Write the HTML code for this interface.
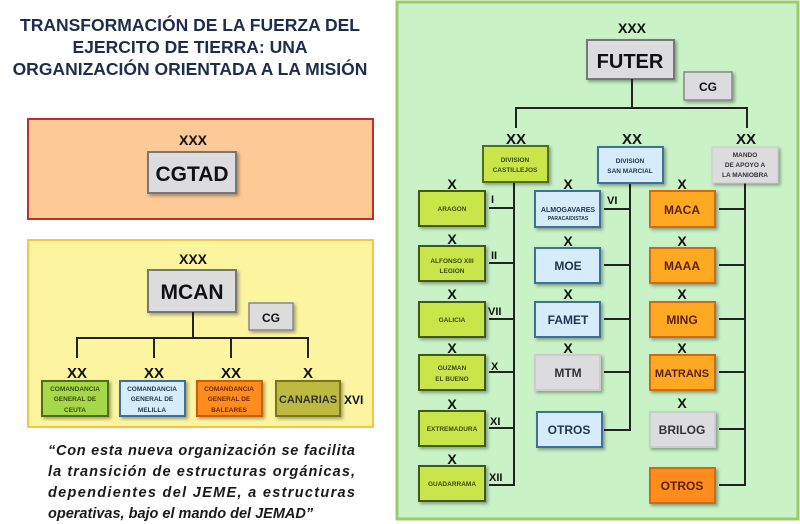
<!DOCTYPE html>
<html><head><meta charset="utf-8"><style>
html,body{margin:0;padding:0;background:#fff;}
svg{display:block;}
text{font-family:"Liberation Sans",sans-serif;font-weight:bold;}
</style></head><body>
<svg width="800" height="524" viewBox="0 0 800 524" xmlns="http://www.w3.org/2000/svg">
<defs>
<filter id="sh" x="-20%" y="-20%" width="150%" height="150%"><feDropShadow dx="2" dy="2" stdDeviation="1.5" flood-color="#000" flood-opacity="0.35"/></filter>
</defs>
<!-- title -->
<g fill="#1f2d4d" font-size="17.5" text-anchor="middle">
<text x="190" y="31">TRANSFORMACIÓN DE LA FUERZA DEL</text>
<text x="190" y="53">EJERCITO DE TIERRA: UNA</text>
<text x="190" y="75">ORGANIZACIÓN ORIENTADA A LA MISIÓN</text>
</g>
<!-- CGTAD panel -->
<rect x="28" y="119" width="345" height="100" fill="#fdc997" stroke="#c0302a" stroke-width="2"/>
<text x="193" y="145" font-size="14" text-anchor="middle" fill="#111">XXX</text>
<rect x="148" y="152" width="88" height="41" fill="#dcdcde" stroke="#777" stroke-width="2" filter="url(#sh)"/>
<text x="192" y="181" font-size="21" text-anchor="middle" fill="#111">CGTAD</text>
<!-- MCAN panel -->
<rect x="28" y="240" width="345" height="187" fill="#fdf4a0" stroke="#f2c744" stroke-width="2"/>
<text x="193" y="264" font-size="14" text-anchor="middle" fill="#111">XXX</text>
<rect x="148" y="270" width="88" height="42" fill="#dcdcde" stroke="#777" stroke-width="2" filter="url(#sh)"/>
<text x="192" y="299" font-size="21" text-anchor="middle" fill="#111">MCAN</text>
<rect x="249" y="303" width="44" height="27" fill="#dcdcde" stroke="#888" stroke-width="1.5" filter="url(#sh)"/>
<text x="271" y="322" font-size="12" text-anchor="middle" fill="#111">CG</text>
<g stroke="#222" stroke-width="2" fill="none">
<path d="M193 312V338M77 358V338H308V358M154 338V358M231 338V358"/>
</g>
<g font-size="15" text-anchor="middle" fill="#111">
<text x="77" y="378">XX</text><text x="154" y="378">XX</text><text x="231" y="378">XX</text><text x="308" y="378">X</text>
</g>
<rect x="42" y="381" width="66" height="35" fill="#a6d94a" stroke="#4f6e1c" stroke-width="2" filter="url(#sh)"/>
<rect x="120" y="381" width="65" height="35" fill="#d7ecfb" stroke="#3b6f9f" stroke-width="2" filter="url(#sh)"/>
<rect x="197" y="381" width="65" height="35" fill="#ff8c1a" stroke="#c65f10" stroke-width="2" filter="url(#sh)"/>
<rect x="276" y="381" width="64" height="35" fill="#bfb940" stroke="#7a7722" stroke-width="2" filter="url(#sh)"/>
<g font-size="6.5" text-anchor="middle">
<text x="75" y="391" fill="#3d4a10">COMANDANCIA</text><text x="75" y="401" fill="#3d4a10">GENERAL DE</text><text x="75" y="412" fill="#3d4a10">CEUTA</text>
<text x="152" y="391" fill="#1f3550">COMANDANCIA</text><text x="152" y="401" fill="#1f3550">GENERAL DE</text><text x="152" y="412" fill="#1f3550">MELILLA</text>
<text x="229" y="391" fill="#6b2a00">COMANDANCIA</text><text x="229" y="401" fill="#6b2a00">GENERAL DE</text><text x="229" y="412" fill="#6b2a00">BALEARES</text>
</g>
<text x="308" y="403" font-size="11" text-anchor="middle" fill="#333">CANARIAS</text>
<text x="344" y="404" font-size="12" fill="#111">XVI</text>
<!-- quote -->
<g font-size="14.5" font-style="italic" fill="#1a1a1a">
<text x="48" y="455" textLength="307" lengthAdjust="spacing">“Con esta nueva organización se facilita</text>
<text x="48" y="476" textLength="307" lengthAdjust="spacing">la transición de estructuras orgánicas,</text>
<text x="48" y="497" textLength="307" lengthAdjust="spacing">dependientes del JEME, a estructuras</text>
<text x="48" y="518">operativas, bajo el mando del JEMAD”</text>
</g>
<!-- right panel -->
<rect x="397" y="2" width="401" height="517" fill="#c9f2c7" stroke="#9ccc6a" stroke-width="3"/>
<text x="632" y="33" font-size="14" text-anchor="middle" fill="#111">XXX</text>
<rect x="587" y="40" width="87" height="39" fill="#dcdcde" stroke="#777" stroke-width="2" filter="url(#sh)"/>
<text x="630" y="68" font-size="20" text-anchor="middle" fill="#111">FUTER</text>
<rect x="684" y="72" width="48" height="28" fill="#dcdcde" stroke="#888" stroke-width="1.5" filter="url(#sh)"/>
<text x="708" y="91" font-size="12" text-anchor="middle" fill="#111">CG</text>
<g stroke="#222" stroke-width="2" fill="none">
<path d="M632 79V108M516 128V108H747V128"/>
<path d="M514 182V485H489M489 208H514M489 263H514M489 319H514M489 372H514M489 428H514"/>
<path d="M630 183V430H604M604 209H630M604 265H630M604 319H630M604 372H630"/>
<path d="M745 183V485H719M719 209H745M719 265H745M719 319H745M719 372H745M719 429H745"/>
</g>
<g font-size="15" text-anchor="middle" fill="#111">
<text x="516" y="144">XX</text><text x="632" y="144">XX</text><text x="746" y="144">XX</text>
</g>
<rect x="483" y="146" width="65" height="36" fill="#c8e64a" stroke="#4f6e1c" stroke-width="2" filter="url(#sh)"/>
<rect x="598" y="147" width="65" height="36" fill="#d7ecfb" stroke="#3b6f9f" stroke-width="2" filter="url(#sh)"/>
<rect x="712" y="147" width="66" height="36" fill="#dcdcde" stroke="#ccc" stroke-width="1" filter="url(#sh)"/>
<g font-size="6.5" text-anchor="middle">
<text x="515" y="162" fill="#3d4a10">DIVISION</text><text x="515" y="172" fill="#3d4a10">CASTILLEJOS</text>
<text x="630" y="163" fill="#1f3550">DIVISION</text><text x="630" y="173" fill="#1f3550">SAN MARCIAL</text>
<text x="745" y="157" fill="#333">MANDO</text><text x="745" y="167" fill="#333">DE APOYO  A</text><text x="745" y="177" fill="#333">LA MANIOBRA</text>
</g>
<!-- left column -->
<g fill="#c8e64a" stroke="#3f5a14" stroke-width="2" filter="url(#sh)">
<rect x="419" y="191" width="66" height="35"/><rect x="419" y="246" width="66" height="35"/>
<rect x="419" y="302" width="66" height="35"/><rect x="419" y="355" width="66" height="35"/>
<rect x="419" y="411" width="66" height="35"/><rect x="419" y="466" width="66" height="35"/>
</g>
<g font-size="6.5" text-anchor="middle" fill="#3d4a10">
<text x="452" y="211">ARAGON</text>
<text x="452" y="263">ALFONSO XIII</text><text x="452" y="273">LEGION</text>
<text x="452" y="322">GALICIA</text>
<text x="452" y="370">GUZMAN</text><text x="452" y="381">EL BUENO</text>
<text x="452" y="431">EXTREMADURA</text>
<text x="452" y="486">GUADARRAMA</text>
</g>
<g font-size="14" text-anchor="middle" fill="#111">
<text x="452" y="189">X</text><text x="452" y="244">X</text><text x="452" y="299">X</text><text x="452" y="353">X</text><text x="452" y="409">X</text><text x="452" y="464">X</text>
<text x="568" y="189">X</text><text x="568" y="246">X</text><text x="568" y="299">X</text><text x="568" y="353">X</text>
<text x="682" y="189">X</text><text x="682" y="246">X</text><text x="682" y="299">X</text><text x="682" y="353">X</text><text x="682" y="408">X</text>
</g>
<g font-size="11" fill="#111">
<text x="491" y="203">I</text><text x="491" y="259">II</text><text x="488" y="315">VII</text><text x="491" y="370">X</text><text x="490" y="425">XI</text><text x="489" y="481">XII</text>
<text x="607" y="204">VI</text>
</g>
<!-- middle column -->
<g stroke-width="2" filter="url(#sh)">
<rect x="535" y="191" width="65" height="36" fill="#d7ecfb" stroke="#3b6f9f"/>
<rect x="535" y="248" width="65" height="35" fill="#d7ecfb" stroke="#3b6f9f"/>
<rect x="535" y="302" width="65" height="35" fill="#d7ecfb" stroke="#3b6f9f"/>
<rect x="535" y="355" width="65" height="35" fill="#dcdcde" stroke="#ccc"/>
<rect x="537" y="412" width="65" height="35" fill="#d7ecfb" stroke="#3b6f9f"/>
</g>
<g text-anchor="middle" fill="#1f3550">
<text x="568" y="212" font-size="7">ALMOGAVARES</text>
<text x="568" y="220" font-size="5" font-weight="normal">PARACAIDISTAS</text>
<text x="568" y="270" font-size="12">MOE</text>
<text x="568" y="324" font-size="12">FAMET</text>
<text x="568" y="377" font-size="12" fill="#333">MTM</text>
<text x="569" y="434" font-size="12">OTROS</text>
</g>
<!-- right column -->
<g stroke-width="2" filter="url(#sh)">
<rect x="650" y="191" width="65" height="36" fill="#ffa824" stroke="#d06a10"/>
<rect x="650" y="248" width="65" height="35" fill="#ffa824" stroke="#d06a10"/>
<rect x="650" y="302" width="65" height="35" fill="#ffa824" stroke="#d06a10"/>
<rect x="650" y="355" width="65" height="35" fill="#ffa824" stroke="#d06a10"/>
<rect x="650" y="412" width="65" height="35" fill="#dcdcde" stroke="#ccc"/>
<rect x="650" y="468" width="65" height="35" fill="#ff8c1a" stroke="#d06a10"/>
</g>
<g text-anchor="middle" font-size="12" fill="#5a2200">
<text x="682" y="214">MACA</text>
<text x="682" y="270">MAAA</text>
<text x="682" y="324">MING</text>
<text x="682" y="377" font-size="11">MATRANS</text>
<text x="682" y="434" fill="#333">BRILOG</text>
<text x="682" y="490">OTROS</text>
</g>
</svg>
</body></html>
